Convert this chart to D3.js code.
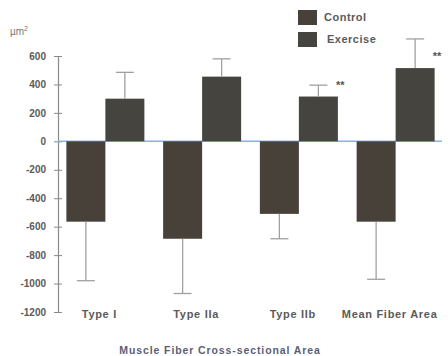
<!DOCTYPE html>
<html><head><meta charset="utf-8">
<script src="https://cdn.jsdelivr.net/npm/d3@7"></script>
<style>body{margin:0;background:#fff;}svg{display:block;}</style>
</head><body>
<svg id="chart" width="448" height="356"></svg>
<script>
const categories = ["Type I", "Type IIa", "Type IIb", "Mean Fiber Area"];
const seriesNames = ["Control", "Exercise"];
const controlValues = [-565, -685, -510, -565];
const controlErrors = [415, 385, 175, 405];
const exerciseValues = [300, 455, 315, 515];
const exerciseErrors = [185, 125, 80, 205];
const significance = ["", "", "**", "**"];
const yTicks = [600, 400, 200, 0, -200, -400, -600, -800, -1000, -1200];

const colors = {Control: "#48413a", Exercise: "#45443e"};
const textColor = "#5a5a5a";
const svg = d3.select("#chart");
const font = "'Liberation Sans', Arial, sans-serif";

const y = d3.scaleLinear().domain([-1200, 600]).range([312, 56]);
const x0 = d3.scaleBand().domain(categories).range([57, 444]).padding(0);
const groupW = 78;
const x1 = d3.scaleBand().domain(seriesNames).range([0, groupW]).padding(0);

const rows = categories.map((c, i) => ({
  cat: c,
  bars: [
    {s: "Control", v: controlValues[i], e: controlErrors[i]},
    {s: "Exercise", v: exerciseValues[i], e: exerciseErrors[i]}
  ],
  sig: significance[i]
}));

// axis
const axisX = 58;
const ax = svg.append("g").attr("transform", `translate(${axisX},0)`)
  .call(d3.axisLeft(y).tickValues(yTicks).tickFormat(d => String(d))
    .tickSizeOuter(0).tickSizeInner(4).tickPadding(8));
ax.select(".domain").attr("stroke", "#8a8a8a").attr("stroke-width", 1.2);
ax.selectAll(".tick line").attr("x1", -4).attr("x2", 4).attr("stroke", "#8a8a8a").attr("stroke-width", 1);
ax.selectAll(".tick text").attr("fill", textColor).attr("font-family", font)
  .attr("font-weight", "bold").attr("font-size", 10);

// zero line
svg.append("line").attr("x1", axisX).attr("x2", 442).attr("y1", y(0)).attr("y2", y(0))
  .attr("stroke", "#8db2e2").attr("stroke-width", 1.5);

// bars
const groups = svg.selectAll("g.grp").data(rows).join("g").attr("class", "grp")
  .attr("transform", d => `translate(${x0(d.cat) + (x0.bandwidth() - groupW) / 2},0)`);

groups.selectAll("rect").data(d => d.bars).join("rect")
  .attr("x", d => x1(d.s))
  .attr("width", x1.bandwidth())
  .attr("y", d => y(Math.max(0, d.v)))
  .attr("height", d => Math.abs(y(d.v) - y(0)))
  .attr("fill", d => colors[d.s]);

// error bars
const capW = 18;
groups.selectAll("g.err").data(d => d.bars).join("g").attr("class", "err").each(function(d) {
  const g = d3.select(this);
  const cx = x1(d.s) + x1.bandwidth() / 2;
  const end = d.v < 0 ? d.v - d.e : d.v + d.e;
  g.append("line").attr("x1", cx).attr("x2", cx).attr("y1", y(d.v)).attr("y2", y(end))
    .attr("stroke", "#a0a0a0").attr("stroke-width", 1.3);
  g.append("line").attr("x1", cx - capW / 2).attr("x2", cx + capW / 2).attr("y1", y(end)).attr("y2", y(end))
    .attr("stroke", "#a0a0a0").attr("stroke-width", 1.3);
});

// significance
groups.append("text")
  .attr("x", groupW - 2)
  .attr("y", d => y(d.bars[1].v) - 8)
  .attr("fill", "#555").attr("font-family", font).attr("font-weight", "bold").attr("font-size", 11)
  .text(d => d.sig);

// category labels
svg.selectAll("text.cat").data(categories).join("text").attr("class", "cat")
  .attr("x", d => x0(d) + x0.bandwidth() / 2 - 6)
  .attr("y", 318)
  .attr("text-anchor", "middle")
  .attr("fill", textColor).attr("font-family", font).attr("font-weight", "bold").attr("font-size", 11)
  .attr("letter-spacing", 0.7)
  .text(d => d);

// unit label
const unit = svg.append("text").attr("x", 10).attr("y", 35)
  .attr("fill", "#777").attr("font-family", font).attr("font-size", 10);
unit.append("tspan").text("µm");
unit.append("tspan").attr("dy", -4).attr("font-size", 7).text("2");

// title
svg.append("text").attr("x", 220).attr("y", 354).attr("text-anchor", "middle")
  .attr("fill", "#5a5f78").attr("font-family", font).attr("font-weight", "bold").attr("font-size", 10.5)
  .attr("letter-spacing", 0.9)
  .text("Muscle Fiber Cross-sectional Area");

// legend
const leg = svg.selectAll("g.leg").data(seriesNames).join("g").attr("class", "leg")
  .attr("transform", (d, i) => `translate(298,${10 + i * 22})`);
leg.append("rect").attr("width", 19).attr("height", 15).attr("fill", d => colors[d]);
leg.append("text").attr("x", (d, i) => 26 + i * 3).attr("y", 11)
  .attr("fill", textColor).attr("font-family", font).attr("font-weight", "bold").attr("font-size", 11)
  .attr("letter-spacing", 0.5)
  .text(d => d);
</script>
</body></html>
